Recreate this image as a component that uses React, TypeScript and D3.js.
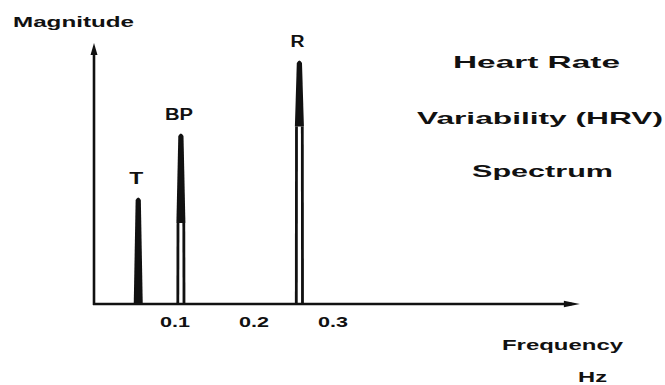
import { useEffect, useRef } from 'react';
import * as d3 from 'd3';

// spectral peaks
const peakLabels = ['T', 'BP', 'R'];
const peakFreqs = [0.056, 0.11, 0.26];
const peakMags = [0.41, 0.655, 0.935];
// magnitude above which each spike is drawn solid
const peakSolidFrom = [0, 0.31, 0.68];

const tickValues = [0.1, 0.2, 0.3];
const tickLabels = ['0.1', '0.2', '0.3'];

const width = 665;
const height = 385;
const font = "'Liberation Sans', Arial, sans-serif";

const App = () => {
    const svgRef = useRef<SVGSVGElement>(null);

    useEffect(() => {
        d3.select(svgRef.current).selectAll('*').remove();
        const svg = d3
            .select(svgRef.current)
            .attr('width', width)
            .attr('height', height);

        const x = d3.scaleLinear().domain([0, 0.6]).range([94, 568]);
        const y = d3.scaleLinear().domain([0, 1]).range([304, 43]);
        const axisEnd = 0.615;

        const ink = '#111';

        // axes
        svg.append('line')
            .attr('x1', x(0))
            .attr('x2', x(0))
            .attr('y1', y(0) + 1)
            .attr('y2', y(1) + 8)
            .attr('stroke', ink)
            .attr('stroke-width', 2.6);
        svg.append('path')
            .attr(
                'd',
                `M${x(0)},${y(1)} L${x(0) - 3.5},${y(1) + 12} L${x(0) + 3.5},${y(1) + 12} Z`
            )
            .attr('fill', ink);

        svg.append('line')
            .attr('x1', x(0) - 1)
            .attr('x2', x(axisEnd) - 8)
            .attr('y1', y(0))
            .attr('y2', y(0))
            .attr('stroke', ink)
            .attr('stroke-width', 2.6);
        svg.append('path')
            .attr(
                'd',
                `M${x(axisEnd)},${y(0)} L${x(axisEnd) - 16},${y(0) - 3.2} L${x(axisEnd) - 16},${y(0) + 3.2} Z`
            )
            .attr('fill', ink);

        // peaks
        const baseHalf = 4.5;
        const topHalf = 2.6;
        peakFreqs.forEach((f, i) => {
            const cx = x(f);
            const y0 = y(0);
            const yTop = y(peakMags[i]);
            const yS = y(peakSolidFrom[i]);

            if (peakSolidFrom[i] > 0) {
                [-1, 1].forEach(side => {
                    svg.append('line')
                        .attr('x1', cx + side * (baseHalf - 1.4))
                        .attr('x2', cx + side * (baseHalf - 1.6))
                        .attr('y1', y0)
                        .attr('y2', yS)
                        .attr('stroke', ink)
                        .attr('stroke-width', 2.8);
                });
            }
            svg.append('path')
                .attr(
                    'd',
                    `M${cx - baseHalf},${yS} L${cx - topHalf},${yTop + 3} Q${cx},${yTop - 2} ${cx + topHalf},${yTop + 3} L${cx + baseHalf},${yS} Z`
                )
                .attr('fill', ink);

            const label = peakLabels[i];
            svg.append('text')
                .attr('x', cx - 2)
                .attr('y', yTop - 13)
                .attr('text-anchor', 'middle')
                .attr('font-family', font)
                .attr('font-weight', 'bold')
                .attr('font-size', 16)
                .attr('textLength', label.length * 14)
                .attr('lengthAdjust', 'spacingAndGlyphs')
                .attr('fill', ink)
                .text(label);
        });

        // tick labels
        tickValues.forEach((v, i) => {
            svg.append('text')
                .attr('x', x(v) + 2)
                .attr('y', 327)
                .attr('text-anchor', 'middle')
                .attr('font-family', font)
                .attr('font-weight', 'bold')
                .attr('font-size', 14)
                .attr('textLength', 30)
                .attr('lengthAdjust', 'spacingAndGlyphs')
                .attr('fill', ink)
                .text(tickLabels[i]);
        });

        // wide bold captions
        const captions: [string, number, number, number, number][] = [
            ['Magnitude', 13, 27, 121, 15],
            ['Heart Rate', 453, 68, 167, 17],
            ['Variability (HRV)', 417, 124, 246, 17],
            ['Spectrum', 472, 177, 141, 17],
            ['Frequency', 502, 350, 121, 15],
            ['Hz', 578, 382, 29, 15],
        ];
        captions.forEach(([t, cx0, cy, len, size]) => {
            svg.append('text')
                .attr('x', cx0)
                .attr('y', cy)
                .attr('font-family', font)
                .attr('font-weight', 'bold')
                .attr('font-size', size)
                .attr('textLength', len)
                .attr('lengthAdjust', 'spacingAndGlyphs')
                .attr('fill', ink)
                .text(t);
        });
    }, []);

    return (
        <div style={{ position: 'absolute', left: 0, top: 0, background: '#fff' }}>
            <svg ref={svgRef} style={{ display: 'block' }}></svg>
        </div>
    );
};

export default App;
